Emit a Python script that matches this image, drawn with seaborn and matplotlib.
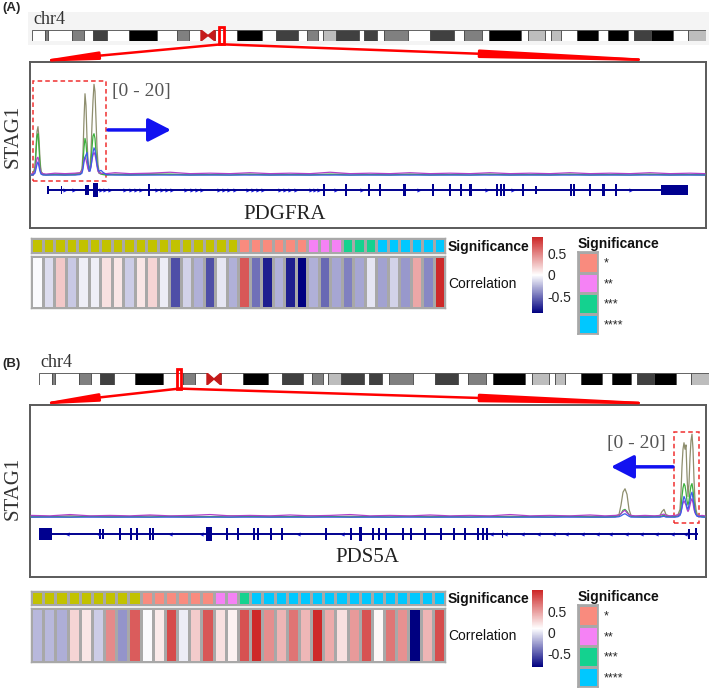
import numpy as np
import pandas as pd
import matplotlib
matplotlib.use("Agg")
import matplotlib.pyplot as plt
import seaborn as sns
from matplotlib.colors import LinearSegmentedColormap, ListedColormap
from matplotlib.patches import Rectangle, Polygon, ConnectionPatch

# ---------------- data ----------------
# chromosome 4 ideogram bands (position along the ideogram, shade)
band_start = [32, 45, 48, 72, 84, 93, 107, 129, 157, 177, 189, 215, 237, 262, 276, 298, 307, 318, 323, 336, 359, 364,
              377, 384, 408, 430, 454, 464, 482, 489, 521, 528, 545, 551, 561, 577, 598, 608, 628, 634, 651, 673, 688]
band_end = [45, 48, 72, 84, 93, 107, 129, 157, 177, 189, 201, 237, 262, 276, 298, 307, 318, 323, 336, 359, 364, 377,
            384, 408, 430, 454, 464, 482, 489, 521, 528, 545, 551, 561, 577, 598, 608, 628, 634, 651, 673, 688, 706]
band_shade = ['w', 'g', 'w', 'g', 'w', 'd', 'w', 'k', 'w', 'g', 'w', 'w', 'k', 'w', 'd', 'w', 'g', 'w', 'l', 'd', 'w', 'd',
              'w', 'g', 'w', 'd', 'w', 'g', 'w', 'k', 'w', 'l', 'w', 'l', 'w', 'k', 'w', 'k', 'w', 'd', 'k', 'w', 'l']
centromere = [201, 215]
region_A = [219, 224]
region_B = [171, 175]

track_names = ['STAG1_1', 'STAG1_2', 'STAG1_3', 'STAG1_4']

# STAG1 signal, panel A (PDGFRA locus)
posA = [31, 33, 35, 36, 37, 38, 39, 40, 41, 43, 46, 55, 65, 75, 80, 82, 83, 84, 85, 86, 87, 88, 89, 90, 91, 92, 93, 94,
        95, 96, 97, 98, 99, 101, 103, 106, 115, 130, 150, 170, 190, 210, 230, 250, 270, 290, 310, 330, 350, 370, 390,
        410, 430, 450, 470, 490, 510, 530, 550, 570, 590, 610, 630, 650, 670, 690, 705]
sigA_1 = [0.3, 0.5, 2.0, 6.0, 9.5, 10.5, 8.0, 3.5, 1.0, 0.4, 0.3, 0.4, 0.3, 0.5, 0.6, 1.5, 5.0, 12.0, 17.5, 15.0,
          8.0, 3.0, 1.5, 2.0, 5.0, 11.0, 16.0, 19.5, 18.0, 12.0, 6.0, 2.5, 1.0, 0.6, 0.4, 0.3, 0.4, 0.3, 0.5, 0.3,
          0.4, 0.3, 0.5, 0.3, 0.4, 0.3, 0.4, 0.3, 0.5, 0.3, 0.4, 0.3, 0.4, 0.3, 0.5, 0.3, 0.4, 0.3, 0.4, 0.3,
          0.4, 0.3, 0.5, 0.3, 0.4, 0.3, 0.3]
sigA_2 = [0.2, 0.3, 1.5, 5.0, 8.5, 9.0, 6.0, 2.5, 0.8, 0.3, 0.2, 0.3, 0.2, 0.3, 0.4, 1.0, 3.0, 6.0, 8.0, 7.0,
          4.0, 2.0, 1.0, 1.5, 3.0, 6.0, 8.5, 9.0, 8.0, 5.0, 3.0, 1.2, 0.6, 0.4, 0.3, 0.2, 0.3, 0.2, 0.3, 0.4,
          0.2, 0.3, 0.2, 0.4, 0.2, 0.3, 0.2, 0.4, 0.2, 0.3, 0.2, 0.4, 0.2, 0.3, 0.2, 0.4, 0.2, 0.3, 0.2, 0.4,
          0.2, 0.3, 0.2, 0.4, 0.2, 0.3, 0.2]
sigA_3 = [0.4, 0.5, 1.0, 2.5, 3.8, 4.0, 3.0, 1.5, 0.7, 0.5, 0.4, 0.6, 0.5, 0.6, 0.7, 1.0, 2.0, 3.5, 4.0, 3.5,
          2.5, 1.5, 1.0, 1.2, 2.0, 3.5, 4.5, 5.0, 4.5, 3.5, 2.0, 1.0, 0.7, 0.5, 0.6, 0.5, 0.7, 0.5, 0.6, 0.8,
          0.5, 0.6, 0.5, 0.7, 0.5, 0.6, 0.5, 0.8, 0.5, 0.6, 0.5, 0.7, 0.5, 0.6, 0.5, 0.7, 0.5, 0.6, 0.5, 0.7,
          0.5, 0.6, 0.5, 0.7, 0.5, 0.6, 0.5]
sigA_4 = [0.2, 0.2, 0.6, 1.5, 2.5, 3.0, 2.0, 1.0, 0.4, 0.2, 0.2, 0.2, 0.2, 0.2, 0.3, 0.6, 1.5, 3.0, 4.0, 4.5,
          5.0, 3.0, 1.2, 1.0, 2.0, 3.5, 5.0, 6.0, 5.5, 4.0, 2.5, 1.5, 1.0, 1.2, 0.8, 0.3, 0.2, 0.2, 0.2, 0.2,
          0.2, 0.2, 0.2, 0.2, 0.2, 0.2, 0.2, 0.2, 0.2, 0.2, 0.2, 0.2, 0.2, 0.2, 0.2, 0.2, 0.2, 0.2, 0.2, 0.2,
          0.2, 0.2, 0.2, 0.2, 0.2, 0.2, 0.2]

# STAG1 signal, panel B (PDS5A locus)
posB = [31, 50, 70, 90, 110, 130, 150, 170, 190, 210, 230, 250, 270, 290, 310, 330, 350, 370, 390, 410, 430, 450, 470,
        490, 510, 530, 550, 570, 590, 605, 615, 619, 621, 623, 625, 627, 629, 631, 635, 645, 655, 660, 662, 664, 666,
        670, 675, 678, 680, 681, 682, 683, 684, 685, 686, 687, 688, 689, 690, 691, 692, 693, 694, 695, 696, 697, 699,
        702, 705]
sigB_1 = [0.4, 0.3, 0.5, 0.3, 0.4, 0.3, 0.5, 0.3, 0.4, 0.3, 0.5, 0.3, 0.4, 0.3, 0.5, 0.3, 0.4, 0.3, 0.5, 0.3,
          0.4, 0.3, 0.5, 0.3, 0.4, 0.3, 0.5, 0.3, 0.4,
          0.3, 0.4, 0.8, 3.0, 6.0, 6.8, 5.5, 2.0, 0.6, 0.4,
          0.3, 0.4, 0.6, 1.5, 2.0, 0.8, 0.4, 0.5, 0.8, 2.0,
          6.0, 12.0, 16.0, 17.5, 16.0, 17.0, 10.0, 5.0, 8.0, 14.0,
          18.0, 19.5, 16.0, 9.0, 4.0, 2.0, 1.0, 0.6, 0.4, 0.3]
sigB_2 = [0.2, 0.3, 0.2, 0.4, 0.2, 0.3, 0.2, 0.4, 0.2, 0.3, 0.2, 0.4, 0.2, 0.3, 0.2, 0.4, 0.2, 0.3, 0.2, 0.4,
          0.2, 0.3, 0.2, 0.4, 0.2, 0.3, 0.2, 0.4, 0.2,
          0.2, 0.3, 0.5, 1.0, 1.8, 2.0, 1.5, 0.8, 0.4, 0.3,
          0.2, 0.3, 0.3, 0.5, 0.6, 0.4, 0.3, 0.3, 0.5, 1.0,
          2.5, 5.0, 7.0, 8.0, 7.5, 6.0, 4.0, 3.0, 4.0, 6.0,
          7.5, 8.0, 6.5, 4.0, 2.0, 1.0, 0.6, 0.4, 0.3, 0.2]
sigB_3 = [0.6, 0.5, 0.8, 0.5, 0.6, 0.5, 0.7, 0.5, 0.6, 0.8, 0.5, 0.6, 0.5, 0.7, 0.5, 0.6, 0.8, 0.5, 0.6, 0.5,
          0.7, 0.5, 0.6, 0.5, 0.8, 0.5, 0.6, 0.5, 0.7,
          0.5, 0.6, 0.7, 1.0, 1.5, 1.8, 1.2, 0.8, 0.6, 0.5,
          0.6, 0.5, 0.6, 0.8, 0.9, 0.6, 0.5, 0.6, 0.7, 1.0,
          1.5, 2.5, 3.5, 4.0, 3.5, 3.0, 2.0, 1.5, 2.0, 3.0,
          4.0, 4.5, 3.5, 2.0, 1.2, 0.8, 0.6, 0.5, 0.6, 0.5]
sigB_4 = [0.2, 0.2, 0.2, 0.2, 0.2, 0.2, 0.2, 0.2, 0.2, 0.2, 0.2, 0.2, 0.2, 0.2, 0.2, 0.2, 0.2, 0.2, 0.2, 0.2,
          0.2, 0.2, 0.2, 0.2, 0.2, 0.2, 0.2, 0.2, 0.2,
          0.2, 0.2, 0.3, 0.5, 0.8, 1.0, 0.7, 0.4, 0.2, 0.2,
          0.2, 0.2, 0.2, 0.3, 0.4, 0.2, 0.2, 0.2, 0.3, 0.6,
          1.2, 2.5, 4.0, 5.0, 4.5, 3.5, 2.5, 2.0, 3.0, 4.0,
          5.5, 6.0, 4.5, 3.0, 1.5, 0.8, 0.4, 0.3, 0.2, 0.2]

# gene models: exon centre, exon width, exon half-height
pdgfra_line = [48, 688]
pdgfra_exon_c = [48, 61.5, 85.5, 88, 95.5, 149, 324, 345.5, 369, 380, 404, 433, 450, 461, 470.5, 497, 500.5, 504,
                 523, 536, 571, 574, 590, 603, 616, 674.5]
pdgfra_exon_w = [1.5, 1.5, 2, 2, 5, 2, 2, 2, 2, 2, 3, 2, 2, 2, 3, 2, 2, 2, 2, 2.5, 2, 2, 2, 3, 2, 27]
pdgfra_exon_h = [4, 4, 5, 5, 7, 6, 6, 6, 6, 6, 6, 6, 6, 6, 6, 6, 6, 6, 6, 4, 6, 6, 6, 6, 6, 4.5]
pdgfra_chev = [65, 74, 101, 105, 110, 125, 131, 136, 141, 157, 162, 167, 172, 186, 192, 197, 202, 219, 224, 229, 235,
               248, 253, 258, 263, 280, 285, 290, 296, 311, 315, 319, 336, 362, 419, 487, 513, 631]

pds5a_line = [39, 698]
pds5a_exon_c = [45.5, 100, 103, 120, 131, 137, 150, 153, 208.5, 227, 238, 254, 258, 271, 282, 326, 351, 360.5, 373,
                379, 386, 403, 411, 425, 441, 454, 465, 478, 483, 487, 502, 689, 696]
pds5a_exon_w = [13, 1.5, 1.5, 2, 2, 2, 2, 2, 6, 2, 2, 2, 2, 2, 2, 2, 2, 3, 2, 2, 2, 2, 2, 2, 2, 2, 2, 2, 2, 2, 1, 1.5, 2]
pds5a_exon_h = [6, 5, 5, 6, 6, 6, 6, 6, 7, 6, 6, 6, 6, 6, 6, 6, 6, 7, 6, 6, 6, 6, 6, 6, 6, 6, 6, 6, 6, 6, 4, 5, 6]
pds5a_chev = [67, 98, 170, 201, 298, 342, 491, 505, 522, 538, 553, 566, 582, 597, 610, 626, 641, 656, 672, 685]

# heatmap rows
sig_levels = ['ns', '*', '**', '***', '****']
sig_A = ['ns'] * 18 + ['*'] * 6 + ['**'] * 3 + ['***'] * 3 + ['****'] * 6
corr_A = [-0.02, -0.12, 0.23, -0.19, -0.06, -0.06, 0.13, 0.10, -0.18, 0.10, 0.18, -0.07,
          -0.62, -0.16, -0.28, -0.62, -0.09, -0.28, 0.69, -0.50, -0.79, -0.28, -0.79, -0.90,
          -0.28, -0.53, -0.31, -0.45, -0.31, -0.09, -0.33, -0.16, -0.36, 0.36, -0.42, 0.88]
sig_B = ['ns'] * 9 + ['*'] * 6 + ['**'] * 2 + ['***'] * 1 + ['****'] * 16
corr_B = [-0.16, -0.16, -0.20, 0.27, 0.19, -0.09, 0.58, -0.29, 0.77, 0.07, 0.18, 0.84,
          0.02, 0.31, 0.80, 0.22, 0.14, 0.82, 0.98, 0.56, 0.40, 0.67, 0.39, 0.98,
          0.44, 0.22, 0.51, 0.82, 0.12, 0.66, 0.55, -0.82, 0.40, 0.83]
legend_levels = ['*', '**', '***', '****']

# ---------------- style ----------------
sns.set_theme(style="white")
plt.rcParams['font.family'] = ['Liberation Sans', 'DejaVu Sans']
SERIF = ['Liberation Serif', 'DejaVu Serif']

shade_colors = {'w': '#FFFFFF', 'l': '#BDBDBD', 'g': '#808080', 'd': '#404040', 'k': '#000000'}
track_colors = {'STAG1_1': '#8E8E6E', 'STAG1_2': '#3DB03D', 'STAG1_3': '#B040C8', 'STAG1_4': '#3C5CE8'}
sig_colors = ['#C2C200', '#F98B7E', '#F582F5', '#14D28F', '#00C8FF']
corr_cmap = LinearSegmentedColormap.from_list('corr', ['#000080', '#FFFFFF', '#CD2626'])
GENE = '#00008F'
CHEV = '#1A1AE6'
ARROW = '#1212F0'

W, H = 709, 688
fig = plt.figure(figsize=(W / 100, H / 100), dpi=100)


def px_axes(x0, y0, x1, y1):
    return fig.add_axes([x0 / W, 1 - y1 / H, (x1 - x0) / W, (y1 - y0) / H])


def draw_ideogram(ax, region):
    widths = np.array(band_end) - np.array(band_start)
    ax.barh(y=0.5, width=widths, left=band_start, height=1,
            color=[shade_colors[s] for s in band_shade], edgecolor='#4a4a4a', linewidth=0.6)
    c0, c1 = centromere
    cm = (c0 + c1) / 2
    ax.add_patch(Polygon([(c0, 0), (cm, 0.5), (c0, 1)], closed=True, color='#C41A1A'))
    ax.add_patch(Polygon([(c1, 0), (cm, 0.5), (c1, 1)], closed=True, color='#C41A1A'))
    ax.add_patch(Rectangle((region[0], -0.3), region[1] - region[0], 1.6, fill=False,
                           edgecolor='#FF0000', lw=2, clip_on=False))
    ax.set_xlim(31, 706)
    ax.set_ylim(0, 1)
    ax.axis('off')


def draw_signal(ax, pos, series):
    df = pd.DataFrame({
        'pos': np.tile(pos, len(series)),
        'signal': np.concatenate(series),
        'track': np.repeat(track_names, len(pos)),
    })
    sns.lineplot(data=df, x='pos', y='signal', hue='track', palette=track_colors, ax=ax,
                 legend=False, linewidth=0.9, estimator=None, sort=False)
    ax.set_xlim(30, 706)
    ax.set_ylim(0, 20)
    ax.axis('off')


def draw_gene(ax, line, exc, exw, exh, chev, marker, name, name_x):
    ax.hlines(0, line[0], line[1], color=GENE, lw=1.4)
    exc = np.array(exc, dtype=float)
    exw = np.array(exw, dtype=float)
    exh = np.array(exh, dtype=float)
    ax.bar(x=exc, height=2 * exh, width=exw, bottom=-exh, color=GENE, linewidth=0)
    ax.scatter(chev, np.zeros(len(chev)), marker=marker, s=9, color=CHEV, linewidths=0)
    ax.text(name_x, -24, name, ha='center', va='center', fontsize=15, family=SERIF,
            color='#222222', clip_on=False)
    ax.set_xlim(30, 706)
    ax.set_ylim(-10, 10)
    ax.axis('off')


def draw_heat(sig, corr, y_sig, y_corr, y_cbar, y_leg, vmin, vmax):
    ax1 = px_axes(31, y_sig[0], 445, y_sig[1])
    codes = np.array([[sig_levels.index(s) for s in sig]])
    sns.heatmap(codes, ax=ax1, cmap=ListedColormap(sig_colors), vmin=-0.5, vmax=4.5, cbar=False,
                linewidths=1, linecolor='#A8A8A8', xticklabels=False, yticklabels=['Significance'])
    ax2 = px_axes(31, y_corr[0], 445, y_corr[1])
    cax = px_axes(532, y_cbar[0], 543, y_cbar[1])
    sns.heatmap(np.array([corr]), ax=ax2, cmap=corr_cmap, vmin=vmin, vmax=vmax, cbar=True, cbar_ax=cax,
                linewidths=1, linecolor='#A8A8A8', xticklabels=False, yticklabels=['Correlation'],
                cbar_kws={'ticks': [0.5, 0, -0.5]})
    for ax, bold in ((ax1, True), (ax2, False)):
        ax.yaxis.tick_right()
        ax.tick_params(axis='y', length=0, pad=2, labelsize=10, labelrotation=0)
        for t in ax.get_yticklabels():
            t.set_fontweight('bold' if bold else 'normal')
            t.set_color('#111111')
        for sp in ax.spines.values():
            sp.set_visible(True)
            sp.set_color('#A8A8A8')
            sp.set_linewidth(1)
    cb = ax2.collections[0].colorbar
    cb.outline.set_visible(False)
    cb.set_ticks([0.5, 0, -0.5])
    cb.set_ticklabels(['0.5', '0', '-0.5'])
    cax.tick_params(length=0, labelsize=10, pad=3)
    # significance legend
    axl = px_axes(578, y_leg[0], 598, y_leg[1])
    lcodes = np.array([[sig_levels.index(s)] for s in legend_levels])
    sns.heatmap(lcodes, ax=axl, cmap=ListedColormap(sig_colors), vmin=-0.5, vmax=4.5, cbar=False,
                linewidths=1, linecolor='#A8A8A8', xticklabels=False, yticklabels=legend_levels)
    axl.yaxis.tick_right()
    axl.tick_params(axis='y', length=0, pad=4, labelsize=9, labelrotation=0)
    for sp in axl.spines.values():
        sp.set_visible(True)
        sp.set_color('#A8A8A8')
    axl.set_title('Significance', loc='left', fontsize=10, fontweight='bold', pad=3, color='#111111')


def draw_panel(label, y_label, y_chr, y_ideo, ideo_x, region, box_y, sig_y, gene_y,
               pos, series, gene_args, dash, text_xy, text_ha, arrow_from, arrow_to, stag_y):
    fig.text(2 / W, 1 - y_label / H, label, fontsize=9.5, fontweight='bold', va='center', ha='left')
    fig.text(ideo_x[0] / W + 0.003, 1 - y_chr / H, 'chr4', fontsize=13, family=SERIF, color='#333333',
             va='center', ha='left')
    axi = px_axes(ideo_x[0], y_ideo[0], ideo_x[1], y_ideo[1])
    draw_ideogram(axi, region)

    axp = px_axes(30, box_y[0], 706, box_y[1])
    axp.set_xticks([])
    axp.set_yticks([])
    for sp in axp.spines.values():
        sp.set_visible(True)
        sp.set_color('#5a5a5a')
        sp.set_linewidth(1.4)

    axs = px_axes(30, sig_y[0], 706, sig_y[1])
    axs.patch.set_alpha(0)
    draw_signal(axs, pos, series)
    axs.add_patch(Rectangle((dash[0], dash[2]), dash[1] - dash[0], dash[3] - dash[2], fill=False,
                            edgecolor='#F03030', lw=1.1, ls=(0, (3, 2)), clip_on=False))
    axs.text(text_xy[0], text_xy[1], '[0 - 20]', ha=text_ha, va='center', fontsize=14, family=SERIF,
             color='#555555')
    axs.annotate('', xy=arrow_to, xytext=arrow_from,
                 arrowprops=dict(arrowstyle='-|>,head_length=0.7,head_width=0.36', lw=2.5,
                                 color=ARROW, mutation_scale=20, shrinkA=0, shrinkB=0))

    axg = px_axes(30, gene_y - 10, 706, gene_y + 10)
    axg.patch.set_alpha(0)
    draw_gene(axg, *gene_args)

    fig.text(13 / W, 1 - stag_y / H, 'STAG1', rotation=90, fontsize=15, family=SERIF, color='#333333',
             va='center', ha='center')

    mid = (region[0] + region[1]) / 2
    for xyB, hl in (((0.002, 1.0), 3.5), ((0.997, 1.0), 11.5)):
        con = ConnectionPatch(xyA=(mid, -0.3), coordsA=axi.transData, xyB=xyB, coordsB=axp.transAxes,
                              arrowstyle=f'-|>,head_length={hl},head_width=0.22', mutation_scale=10,
                              color='#FF0000', lw=1.8, shrinkA=0, shrinkB=0)
        fig.add_artist(con)


# light background behind chromosome of panel A
axbg = px_axes(28, 12, 709, 45)
axbg.set_facecolor('#F4F4F4')
axbg.set_xticks([])
axbg.set_yticks([])
for sp in axbg.spines.values():
    sp.set_visible(False)

draw_panel('(A)', 8, 20, (30, 41), (31, 706), region_A, (62, 228), (82, 176), 190,
           posA, [sigA_1, sigA_2, sigA_3, sigA_4],
           (pdgfra_line, pdgfra_exon_c, pdgfra_exon_w, pdgfra_exon_h, pdgfra_chev, '>', 'PDGFRA', 285),
           (33, 106, -1.1, 20.2), (112, 17.9), 'left', (108, 9.8), (171, 9.8), 136)

draw_heat(sig_A, corr_A, (238, 253), (256, 308), (237, 313), (252, 334), -0.9, 0.9)

draw_panel('(B)', 364, 362, (373, 385), (38, 709), region_B, (405, 577), (432, 518), 534,
           posB, [sigB_1, sigB_2, sigB_3, sigB_4],
           (pds5a_line, pds5a_exon_c, pds5a_exon_w, pds5a_exon_h, pds5a_chev, '<', 'PDS5A', 367),
           (674, 699, -1.2, 20.1), (666, 17.4), 'right', (673, 11.9), (611, 11.9), 488)

draw_heat(sig_B, corr_B, (591, 605), (608, 662), (590, 667), (605, 687), -0.82, 1.0)

fig.savefig('out.png', dpi=100)
